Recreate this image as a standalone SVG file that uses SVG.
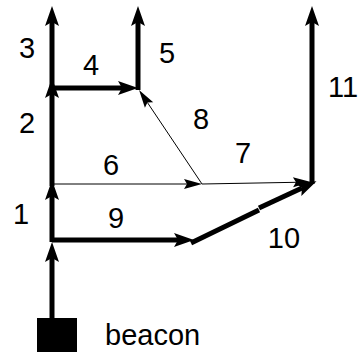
<svg xmlns="http://www.w3.org/2000/svg" width="362" height="352" viewBox="0 0 362 352">
  <style>
    .thick { stroke: #000; stroke-width: 5; fill: none; }
    .thin { stroke: #000; stroke-width: 1; fill: none; }
    .lbl { font-family: "Liberation Sans", Arial, sans-serif; font-size: 29px; fill: #000; text-anchor: middle; }
  </style>
  <defs>
    <marker id="hd" markerUnits="userSpaceOnUse" markerWidth="24" markerHeight="20" viewBox="-2 -10 24 20" refX="4" refY="0" orient="auto">
      <path d="M0,-7 L20,0 L0,7 L4,0 Z" fill="#000"/>
    </marker>
    <marker id="ht" markerUnits="userSpaceOnUse" markerWidth="22" markerHeight="14" viewBox="-2 -7 22 14" refX="3" refY="0" orient="auto">
      <path d="M0,-5 L18,0 L0,5 L3,0 Z" fill="#000"/>
    </marker>
  </defs>

  <g id="connectors">
    <!-- beacon to node 1 -->
    <line class="thick" x1="52" y1="320" x2="52" y2="258" marker-end="url(#hd)"/>
    <!-- 1 -->
    <line class="thick" x1="52" y1="242" x2="52" y2="196" marker-end="url(#hd)"/>
    <!-- 2 -->
    <line class="thick" x1="52" y1="186" x2="52" y2="94" marker-end="url(#hd)"/>
    <!-- 3 -->
    <line class="thick" x1="52" y1="90" x2="52" y2="22" marker-end="url(#hd)"/>
    <!-- 4 -->
    <line class="thick" x1="52" y1="88" x2="122" y2="88" marker-end="url(#hd)"/>
    <!-- 5 -->
    <line class="thick" x1="138" y1="90" x2="138" y2="22" marker-end="url(#hd)"/>
    <!-- 9 -->
    <line class="thick" x1="52" y1="240" x2="178" y2="240" marker-end="url(#hd)"/>
    <!-- 10, drawn in two slightly offset pieces -->
    <line class="thick" x1="191" y1="243" x2="259" y2="210"/>
    <line class="thick" x1="259" y1="208" x2="302" y2="188" marker-end="url(#hd)"/>
    <!-- 11 -->
    <line class="thick" x1="312" y1="184" x2="312" y2="22" marker-end="url(#hd)"/>
    <!-- 6 -->
    <line class="thin" x1="52" y1="184" x2="187" y2="184" marker-end="url(#ht)"/>
    <!-- 7 -->
    <line class="thin" x1="202" y1="184" x2="296" y2="182.3" marker-end="url(#ht)"/>
    <!-- 8 -->
    <line class="thin" x1="202" y1="184" x2="147.4" y2="102.5" marker-end="url(#ht)"/>
  </g>

  <g id="beacon">
    <rect x="37" y="318" width="40" height="34" fill="#000"/>
    <text class="lbl" x="105" y="345" style="text-anchor:start">beacon</text>
  </g>

  <g id="labels">
    <text class="lbl" x="27" y="58">3</text>
    <text class="lbl" x="91" y="75">4</text>
    <text class="lbl" x="167" y="63">5</text>
    <text class="lbl" x="27" y="133">2</text>
    <text class="lbl" x="201" y="129">8</text>
    <text class="lbl" x="243" y="163">7</text>
    <text class="lbl" x="343" y="97">11</text>
    <text class="lbl" x="111" y="175">6</text>
    <text class="lbl" x="21" y="224">1</text>
    <text class="lbl" x="116" y="228">9</text>
    <text class="lbl" x="284" y="248">10</text>
  </g>
</svg>
